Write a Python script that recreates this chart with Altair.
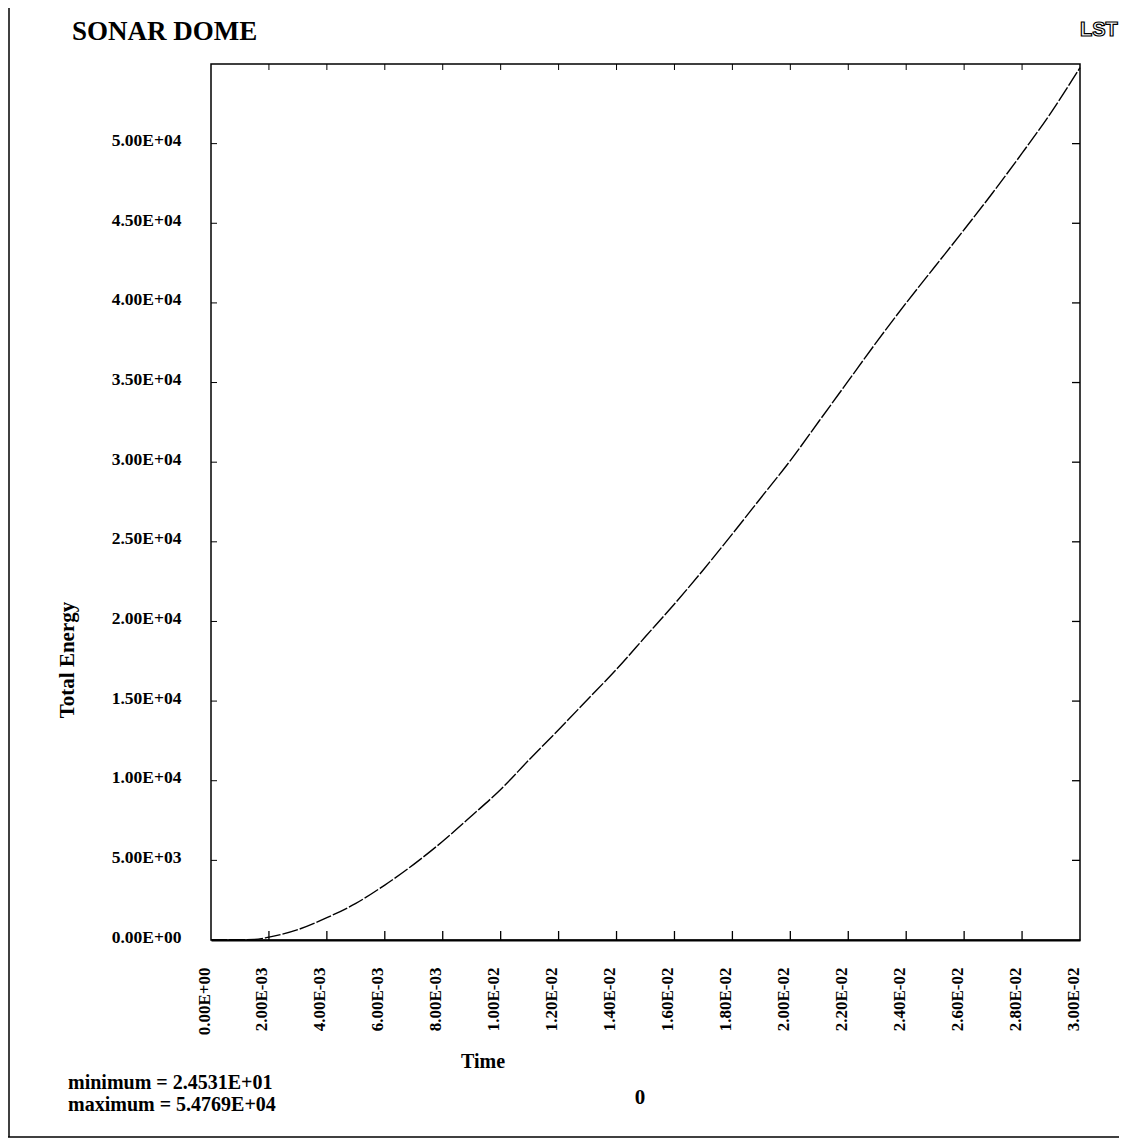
import altair as alt
import pandas as pd

# ---- data ----
time_vals = [0.0, 0.001, 0.0015, 0.002, 0.003, 0.004, 0.005, 0.006, 0.007, 0.008,
             0.009, 0.010, 0.011, 0.012, 0.013, 0.014, 0.015, 0.016, 0.017, 0.018,
             0.019, 0.020, 0.021, 0.022, 0.023, 0.024, 0.025, 0.026, 0.027, 0.028,
             0.029, 0.030]
energy_vals = [24.5, 24.5, 30, 180, 650, 1400, 2300, 3450, 4750, 6200,
               7800, 9450, 11350, 13200, 15100, 17000, 19050, 21100, 23250, 25500,
               27800, 30100, 32600, 35100, 37600, 40000, 42300, 44600, 46950, 49400,
               51950, 54769]

x_tick_values = [0.0, 0.002, 0.004, 0.006, 0.008, 0.010, 0.012, 0.014, 0.016,
                 0.018, 0.020, 0.022, 0.024, 0.026, 0.028, 0.030]
x_tick_labels = ["0.00E+00", "2.00E-03", "4.00E-03", "6.00E-03", "8.00E-03",
                 "1.00E-02", "1.20E-02", "1.40E-02", "1.60E-02", "1.80E-02",
                 "2.00E-02", "2.20E-02", "2.40E-02", "2.60E-02", "2.80E-02",
                 "3.00E-02"]
y_tick_values = [0, 5000, 10000, 15000, 20000, 25000, 30000, 35000, 40000,
                 45000, 50000]
y_tick_labels = ["0.00E+00", "5.00E+03", "1.00E+04", "1.50E+04", "2.00E+04",
                 "2.50E+04", "3.00E+04", "3.50E+04", "4.00E+04", "4.50E+04",
                 "5.00E+04"]

title_text = "SONAR DOME"
x_title = "Time"
y_title = "Total Energy"
min_text = "minimum =  2.4531E+01"
max_text = "maximum =  5.4769E+04"
state_text = "0"
logo_text = "LST"

W, H = 869, 876
FONT = "Liberation Serif"

df = pd.DataFrame({"t": time_vals, "E": energy_vals})
xt = pd.DataFrame({"t": x_tick_values[1:-1]})
yt = pd.DataFrame({"E": y_tick_values[1:]})
one = pd.DataFrame({"k": [0]})

x_scale = alt.Scale(domain=[0, 0.03], nice=False, zero=False)
y_scale = alt.Scale(domain=[0, 55000], nice=False)

x_label_expr = "[" + ",".join("'%s'" % s for s in x_tick_labels) + "][round(datum.value / 0.002)]"
y_label_expr = "[" + ",".join("'%s'" % s for s in y_tick_labels) + "][round(datum.value / 5000)]"

x_axis = alt.Axis(values=x_tick_values, labelExpr=x_label_expr, labelAngle=270,
                  labelFont=FONT, labelFontWeight="bold", labelFontSize=17,
                  labelColor="black", labelPadding=27, labelOffset=-7,
                  ticks=False, domain=True, domainColor="black", domainWidth=2,
                  grid=False, title="", labelOverlap=False)
y_axis = alt.Axis(values=y_tick_values, labelExpr=y_label_expr,
                  labelFont=FONT, labelFontWeight="bold", labelFontSize=17.5,
                  labelColor="black", labelPadding=30, labelOffset=-3,
                  ticks=False, domain=False, grid=False, title="",
                  labelOverlap=False)


def X(field="t"):
    return alt.X(field + ":Q", scale=x_scale, axis=x_axis)


def Y(field="E"):
    return alt.Y(field + ":Q", scale=y_scale, axis=y_axis)


line = alt.Chart(df).mark_line(color="black", strokeWidth=1.4,
                               strokeDash=[16, 2], interpolate="monotone").encode(
    x=X(), y=Y())

left_ticks = alt.Chart(yt).mark_rule(color="black", strokeWidth=1).encode(
    y=Y(), x=alt.value(0), x2=alt.value(6))
right_ticks = alt.Chart(yt).mark_rule(color="black", strokeWidth=1.3).encode(
    y=Y(), x=alt.value(W - 8), x2=alt.value(W))
top_ticks = alt.Chart(xt).mark_rule(color="black", strokeWidth=1).encode(
    x=X(), y=alt.value(0), y2=alt.value(6))
bottom_ticks = alt.Chart(xt).mark_rule(color="black", strokeWidth=1.3).encode(
    x=X(), y=alt.value(H - 9), y2=alt.value(H))


def txt(s, x, y, size, align="left", baseline="alphabetic", angle=0, font=FONT,
        **kw):
    return alt.Chart(one).mark_text(text=s, font=font, fontWeight="bold",
                                    fontSize=size, align=align,
                                    baseline=baseline, angle=angle,
                                    color="black", **kw).encode(
        x=alt.value(x), y=alt.value(y))


title = txt(title_text, -139, -24, 27)
ytitle = txt(y_title, -143, 596, 21, align="center", baseline="middle", angle=270)
xtitle = txt(x_title, 272, 1004, 20, align="center")
mint = txt(min_text, -143, 1025, 20)
maxt = txt(max_text, -143, 1047, 20)
state = txt(state_text, 429, 1034, 21, align="center", baseline="middle")
logo = alt.Chart(one).mark_text(text=logo_text, font="Liberation Sans",
                                fontWeight="bold", fontSize=20, align="left",
                                baseline="alphabetic", fill="white",
                                stroke="black", strokeWidth=1.2).encode(
    x=alt.value(869), y=alt.value(-28))

frame_top = alt.Chart(one).mark_rule(color="black", strokeWidth=1.5).encode(
    x=alt.value(-203), x2=alt.value(908), y=alt.value(-59))
frame_left = alt.Chart(one).mark_rule(color="black", strokeWidth=1.5).encode(
    x=alt.value(-202), y=alt.value(-59), y2=alt.value(1073))
frame_bottom = alt.Chart(one).mark_rule(color="black", strokeWidth=1.5).encode(
    x=alt.value(-203), x2=alt.value(908), y=alt.value(1073))

chart = alt.layer(
    line, left_ticks, right_ticks, top_ticks, bottom_ticks,
    title, ytitle, xtitle, mint, maxt, state, logo,
    frame_top, frame_left, frame_bottom,
).properties(
    width=W, height=H,
    autosize=alt.AutoSizeParams(type="none"),
    padding={"left": 203, "top": 56, "right": 39, "bottom": 198},
).configure(
    background="white",
    view=alt.ViewConfig(stroke="black", strokeWidth=1.5),
)

chart.save("out.html", embed_options={"renderer": "svg", "actions": False})
